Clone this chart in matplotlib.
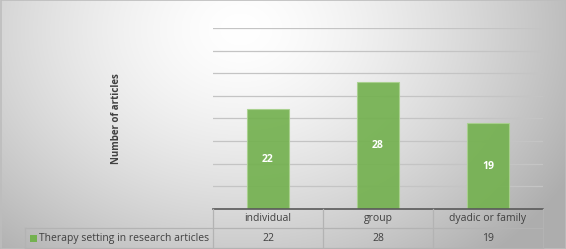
import numpy as np
import matplotlib.pyplot as plt
from matplotlib.patches import Rectangle

plt.rcParams['font.family'] = ['Open Sans', 'DejaVu Sans']

categories = ['individual', 'group', 'dyadic or family']
counts = [22, 28, 19]
series_name = 'Therapy setting in research articles'
y_label = 'Number of articles'

W, H = 566, 249
fig = plt.figure(figsize=(W / 100, H / 100), dpi=100)

# radial grey background (Excel chart-area style)
yy, xx = np.mgrid[0:H, 0:W]
r = np.sqrt(((xx - 240) / 330.0) ** 2 + ((yy - 30) / 260.0) ** 2)
shade = 1.0 - 0.26 * np.clip(r, 0, 1.15) ** 1.5
bg = np.dstack([shade, shade, shade])
bg_ax = fig.add_axes([0, 0, 1, 1], zorder=-10)
bg_ax.imshow(bg, aspect='auto', extent=[0, 1, 0, 1], origin='upper')
bg_ax.set_axis_off()
fig.patches.append(Rectangle((0.5 / W, 0.5 / H), 1 - 1 / W, 1 - 1 / H, transform=fig.transFigure,
                             fill=False, edgecolor='#bdbdbd', linewidth=1.2))

left, right, bottom, top = 213, 543, 209, 28
ax = fig.add_axes([left / W, 1 - bottom / H, (right - left) / W, (bottom - top) / H])
ax.patch.set_alpha(0)
x = np.arange(len(categories))
bars = ax.bar(x, counts, width=0.39, color='#74b150', alpha=0.92,
              edgecolor='#a9d18e', linewidth=0.8, zorder=3)
ax.set_xlim(-0.5, len(categories) - 0.5)
ax.set_ylim(0, 40)
ax.set_yticks(np.arange(0, 41, 5))
ax.yaxis.grid(True, color='#c4c4c4', linewidth=0.9, zorder=0)
ax.set_axisbelow(True)
ax.tick_params(left=False, bottom=False, labelleft=False, labelbottom=False)
for s in ['top', 'right', 'left']:
    ax.spines[s].set_visible(False)
ax.spines['bottom'].set_color('#595959')
ax.spines['bottom'].set_linewidth(1.2)
ax.spines['bottom'].set_zorder(4)

for b, v in zip(bars, counts):
    ax.text(b.get_x() + b.get_width() / 2, v / 2, str(v), ha='center', va='center',
            color='white', fontsize=7.5, fontweight='bold', zorder=5)

fig.text(116 / W, 1 - 119 / H, y_label, rotation=90, ha='center', va='center',
         fontsize=7, fontweight='bold', color='#404040')

# data table under the axis
lc = '#b3b3b3'
row1, row2, row3 = 209, 228, 248
lx = 25
def hline(y, x0, x1):
    fig.add_artist(plt.Line2D([x0 / W, x1 / W], [1 - y / H, 1 - y / H], color=lc, linewidth=0.9))
def vline(xp, y0, y1):
    fig.add_artist(plt.Line2D([xp / W, xp / W], [1 - y0 / H, 1 - y1 / H], color=lc, linewidth=0.9))

hline(row2, lx, right)
hline(row3, lx, right)
vline(lx, row2, row3)
colw = (right - left) / len(categories)
for i in range(len(categories) + 1):
    vline(left + i * colw, row1, row3)
for i, (c, v) in enumerate(zip(categories, counts)):
    cx = (left + (i + 0.5) * colw) / W
    fig.text(cx, 1 - (row1 + row2) / 2 / H, c, ha='center', va='center', fontsize=7.5, color='#404040')
    fig.text(cx, 1 - (row2 + row3) / 2 / H, str(v), ha='center', va='center', fontsize=7.5, color='#404040')
fig.patches.append(Rectangle((30 / W, 1 - 242 / H), 7 / W, 7 / H, transform=fig.transFigure,
                             facecolor='#74b150', edgecolor='none'))
fig.text(39 / W, 1 - (row2 + row3) / 2 / H, series_name, ha='left', va='center',
         fontsize=7.5, color='#404040')

fig.savefig('out.png', dpi=100)
